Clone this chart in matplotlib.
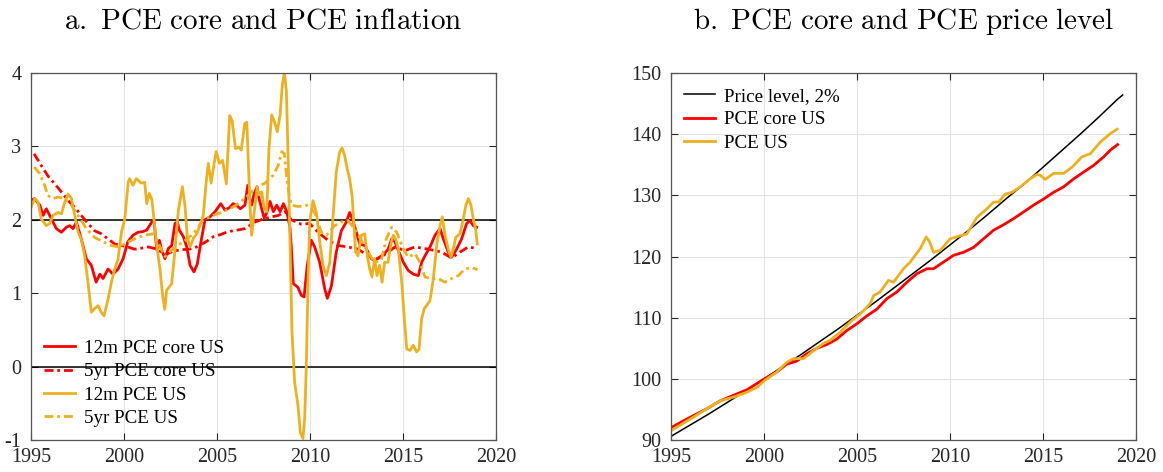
import matplotlib
matplotlib.use("Agg")
import matplotlib.pyplot as plt

plt.rcParams['font.family'] = ['Liberation Serif', 'DejaVu Serif']
plt.rcParams['mathtext.fontset'] = 'cm'
plt.rcParams['axes.unicode_minus'] = False

# ---- panel a: inflation rates (year, percent) ----
core12 = [(1995.0, 2.26), (1995.18, 2.29), (1995.47, 2.20), (1995.65, 2.06), (1995.82, 2.15),
          (1996.1, 2.01), (1996.36, 1.88), (1996.63, 1.83), (1996.9, 1.90), (1997.08, 1.92),
          (1997.26, 1.88), (1997.44, 1.97), (1997.7, 1.74), (1997.97, 1.47), (1998.24, 1.38),
          (1998.5, 1.15), (1998.7, 1.26), (1998.87, 1.20), (1999.14, 1.33), (1999.4, 1.26),
          (1999.68, 1.33), (1999.95, 1.47), (2000.2, 1.70), (2000.48, 1.79), (2000.75, 1.83),
          (2001.0, 1.84), (2001.22, 1.86), (2001.49, 1.97), (2001.61, 2.00), (2001.76, 1.59),
          (2001.9, 1.72), (2002.02, 1.59), (2002.2, 1.47), (2002.38, 1.61), (2002.56, 1.65),
          (2002.74, 1.95), (2002.87, 1.97), (2002.97, 1.86), (2003.19, 1.77), (2003.37, 1.63),
          (2003.55, 1.38), (2003.76, 1.29), (2003.94, 1.40), (2004.12, 1.68), (2004.35, 2.00),
          (2004.62, 2.04), (2004.89, 2.11), (2005.2, 2.22), (2005.43, 2.13), (2005.68, 2.17),
          (2005.86, 2.22), (2006.04, 2.20), (2006.25, 2.15), (2006.5, 2.20), (2006.65, 2.47),
          (2006.76, 2.29), (2006.86, 2.20), (2007.0, 2.36), (2007.15, 2.45), (2007.26, 2.29),
          (2007.4, 2.15), (2007.54, 2.02), (2007.69, 2.11), (2007.85, 2.25), (2008.03, 2.11),
          (2008.21, 2.20), (2008.39, 2.11), (2008.57, 2.22), (2008.75, 2.11), (2008.92, 1.90),
          (2009.0, 1.60), (2009.1, 1.13), (2009.35, 1.08), (2009.53, 0.97), (2009.68, 0.95),
          (2009.85, 1.38), (2010.07, 1.72), (2010.25, 1.63), (2010.52, 1.42), (2010.79, 1.06),
          (2010.93, 0.93), (2011.15, 1.10), (2011.41, 1.56), (2011.68, 1.85), (2011.95, 1.97),
          (2012.13, 2.10), (2012.31, 1.99), (2012.49, 1.83), (2012.67, 1.67), (2012.94, 1.65),
          (2013.12, 1.56), (2013.3, 1.47), (2013.47, 1.45), (2013.74, 1.49), (2014.0, 1.54),
          (2014.2, 1.60), (2014.39, 1.74), (2014.57, 1.70), (2014.75, 1.58), (2015.02, 1.42),
          (2015.28, 1.31), (2015.55, 1.26), (2015.82, 1.24), (2016.0, 1.42), (2016.18, 1.51),
          (2016.45, 1.63), (2016.72, 1.79), (2016.99, 1.88), (2017.17, 1.74), (2017.43, 1.56),
          (2017.61, 1.49), (2017.88, 1.60), (2018.15, 1.74), (2018.42, 1.95), (2018.6, 1.99),
          (2018.78, 1.92), (2018.96, 1.90)]

core5 = [(1995.16, 2.90), (1995.55, 2.74), (1995.9, 2.60), (1996.27, 2.49), (1996.63, 2.38),
         (1997.0, 2.26), (1997.35, 2.17), (1997.7, 2.06), (1998.06, 1.95), (1998.42, 1.85),
         (1998.78, 1.81), (1999.14, 1.74), (1999.5, 1.67), (1999.86, 1.65), (2000.2, 1.63),
         (2000.57, 1.60), (2000.86, 1.61), (2001.3, 1.63), (2001.8, 1.60), (2002.2, 1.52),
         (2002.6, 1.57), (2003.0, 1.59), (2003.5, 1.60), (2003.9, 1.63), (2004.4, 1.70),
         (2004.8, 1.77), (2005.2, 1.80), (2005.6, 1.84), (2006.1, 1.86), (2006.5, 1.88),
         (2007.04, 1.97), (2007.58, 2.02), (2008.3, 2.06), (2008.66, 2.11), (2009.0, 2.00),
         (2009.53, 1.94), (2009.98, 1.95), (2010.43, 1.83), (2010.97, 1.72), (2011.5, 1.65),
         (2012.04, 1.63), (2012.58, 1.60), (2013.12, 1.51), (2013.47, 1.45), (2013.92, 1.51),
         (2014.3, 1.58), (2014.57, 1.63), (2015.1, 1.58), (2015.64, 1.63), (2016.36, 1.60),
         (2017.08, 1.56), (2017.61, 1.48), (2018.06, 1.56), (2018.51, 1.63), (2018.96, 1.61)]

pce12 = [(1995.0, 2.17), (1995.2, 2.29), (1995.38, 2.24), (1995.55, 2.01), (1995.82, 1.92),
         (1996.0, 1.95), (1996.18, 2.06), (1996.45, 2.10), (1996.63, 2.08), (1996.81, 2.24),
         (1996.99, 2.35), (1997.17, 2.29), (1997.35, 2.06), (1997.53, 1.83), (1997.7, 1.74),
         (1997.88, 1.51), (1998.06, 1.15), (1998.24, 0.74), (1998.42, 0.79), (1998.6, 0.83),
         (1998.78, 0.74), (1998.92, 0.69), (1999.14, 0.92), (1999.32, 1.15), (1999.5, 1.33),
         (1999.68, 1.47), (1999.86, 1.83), (2000.04, 2.01), (2000.22, 2.51), (2000.3, 2.56),
         (2000.48, 2.47), (2000.66, 2.56), (2000.93, 2.50), (2001.11, 2.51), (2001.22, 2.22),
         (2001.36, 2.36), (2001.5, 2.27), (2001.67, 1.86), (2001.79, 1.59), (2001.94, 1.31),
         (2002.08, 0.95), (2002.19, 0.78), (2002.29, 1.04), (2002.44, 1.09), (2002.56, 1.13),
         (2002.74, 1.59), (2002.92, 2.13), (2003.14, 2.45), (2003.28, 2.18), (2003.4, 1.77),
         (2003.55, 1.63), (2003.73, 1.75), (2003.91, 1.81), (2004.09, 1.93), (2004.26, 2.06),
         (2004.41, 2.50), (2004.53, 2.77), (2004.68, 2.50), (2004.8, 2.70), (2004.95, 2.93),
         (2005.13, 2.77), (2005.3, 2.81), (2005.5, 2.49), (2005.68, 3.42), (2005.81, 3.35),
         (2005.99, 2.97), (2006.16, 2.99), (2006.3, 2.95), (2006.49, 3.31), (2006.6, 3.33),
         (2006.68, 2.79), (2006.77, 2.20), (2006.86, 1.79), (2007.0, 2.11), (2007.15, 2.43),
         (2007.26, 2.34), (2007.4, 2.38), (2007.54, 2.16), (2007.67, 2.11), (2007.79, 2.97),
         (2007.94, 3.43), (2008.08, 3.34), (2008.24, 3.20), (2008.39, 3.43), (2008.51, 3.84),
         (2008.62, 4.00), (2008.73, 3.75), (2008.83, 2.75), (2008.92, 1.75), (2009.03, 0.47),
         (2009.17, -0.21), (2009.35, -0.53), (2009.48, -0.90), (2009.62, -0.98), (2009.71, -0.71),
         (2009.8, 0.01), (2009.89, 1.15), (2009.98, 1.97), (2010.16, 2.26), (2010.34, 2.10),
         (2010.52, 1.70), (2010.7, 1.38), (2010.88, 1.24), (2011.06, 1.42), (2011.24, 2.06),
         (2011.41, 2.65), (2011.59, 2.92), (2011.72, 2.98), (2011.86, 2.88), (2011.99, 2.70),
         (2012.13, 2.56), (2012.26, 2.33), (2012.36, 1.92), (2012.45, 1.56), (2012.58, 1.51),
         (2012.76, 1.79), (2012.94, 1.81), (2013.08, 1.51), (2013.21, 1.33), (2013.33, 1.22),
         (2013.47, 1.47), (2013.6, 1.24), (2013.74, 1.38), (2013.87, 1.15), (2014.01, 1.42),
         (2014.19, 1.42), (2014.37, 1.70), (2014.48, 1.79), (2014.6, 1.74), (2014.75, 1.60),
         (2014.93, 1.15), (2015.07, 0.65), (2015.2, 0.24), (2015.37, 0.22), (2015.55, 0.29),
         (2015.73, 0.20), (2015.86, 0.24), (2016.0, 0.65), (2016.14, 0.79), (2016.32, 0.85),
         (2016.45, 0.90), (2016.63, 1.20), (2016.81, 1.65), (2016.99, 1.92), (2017.11, 2.04),
         (2017.26, 1.79), (2017.43, 1.60), (2017.58, 1.49), (2017.7, 1.60), (2017.83, 1.76),
         (2018.06, 1.81), (2018.24, 2.01), (2018.38, 2.20), (2018.51, 2.29), (2018.65, 2.20),
         (2018.78, 2.01), (2018.9, 1.88), (2018.99, 1.67)]

pce5 = [(1995.16, 2.72), (1995.47, 2.63), (1995.73, 2.47), (1995.9, 2.33), (1996.18, 2.29),
        (1996.45, 2.31), (1996.81, 2.29), (1997.17, 2.20), (1997.53, 2.06), (1997.97, 1.88),
        (1998.42, 1.76), (1998.87, 1.70), (1999.32, 1.65), (1999.68, 1.63), (2000.04, 1.67),
        (2000.39, 1.72), (2000.75, 1.76), (2001.11, 1.79), (2001.58, 1.81), (2001.94, 1.63),
        (2002.2, 1.50), (2002.65, 1.61), (2003.19, 1.70), (2003.73, 1.81), (2004.26, 2.00),
        (2004.8, 2.06), (2005.34, 2.11), (2005.9, 2.18), (2006.5, 2.29), (2007.04, 2.43),
        (2007.58, 2.50), (2008.03, 2.61), (2008.3, 2.75), (2008.48, 2.93), (2008.62, 2.90),
        (2008.75, 2.56), (2008.87, 2.34), (2009.0, 2.20), (2009.37, 2.18), (2009.82, 2.20),
        (2010.25, 2.10), (2010.61, 1.83), (2010.88, 1.79), (2011.32, 1.92), (2011.68, 1.97),
        (2012.04, 1.99), (2012.4, 1.88), (2012.76, 1.72), (2013.12, 1.56), (2013.47, 1.42),
        (2013.83, 1.45), (2014.1, 1.74), (2014.39, 1.90), (2014.66, 1.83), (2015.02, 1.60),
        (2015.28, 1.49), (2015.64, 1.54), (2015.91, 1.42), (2016.18, 1.22), (2016.54, 1.20),
        (2016.9, 1.20), (2017.26, 1.15), (2017.61, 1.20), (2017.97, 1.24), (2018.33, 1.33),
        (2018.69, 1.35), (2019.01, 1.32)]

# ---- panel b: price levels (2000 = 100) ----
target = [(1995, 90.6), (1996, 92.4), (1997, 94.2), (1998, 96.1), (1999, 98.0), (2000, 100.0),
          (2001, 102.0), (2002, 104.0), (2003, 106.1), (2004, 108.2), (2005, 110.4),
          (2006, 112.6), (2007, 114.9), (2008, 117.2), (2009, 119.5), (2010, 121.9),
          (2011, 124.3), (2012, 126.8), (2013, 129.4), (2014, 131.9), (2015, 134.6),
          (2016, 137.3), (2017, 140.0), (2018, 142.8), (2019, 145.7), (2019.28, 146.4)]

core_lvl = [(1995.04, 92.1), (1996.02, 93.7), (1996.92, 95.1), (1997.64, 96.4), (1998.35, 97.3),
            (1999.07, 98.2), (2000.02, 100.0), (2000.68, 101.1), (2001.22, 102.4), (2001.76, 102.9),
            (2002.3, 104.1), (2002.84, 105.0), (2003.37, 105.6), (2003.91, 106.5), (2004.45, 107.9),
            (2004.99, 109.0), (2005.53, 110.3), (2006.07, 111.4), (2006.6, 113.1), (2007.14, 114.2),
            (2007.68, 115.8), (2008.22, 117.2), (2008.76, 118.0), (2009.11, 118.0), (2009.65, 119.1),
            (2010.19, 120.2), (2010.73, 120.7), (2011.27, 121.5), (2011.8, 122.9), (2012.34, 124.3),
            (2012.88, 125.2), (2013.42, 126.2), (2013.96, 127.3), (2014.49, 128.4), (2015.03, 129.4),
            (2015.57, 130.5), (2016.11, 131.4), (2016.65, 132.7), (2017.18, 133.8), (2017.72, 134.9),
            (2018.26, 136.3), (2018.62, 137.4), (2019.01, 138.3)]

pce_lvl = [(1995.04, 91.6), (1996.02, 93.4), (1996.92, 95.1), (1997.64, 96.4), (1998.35, 97.0),
           (1999.07, 97.8), (1999.61, 98.6), (2000.02, 99.7), (2000.68, 101.1), (2001.22, 102.7),
           (2001.58, 103.3), (2002.12, 103.3), (2002.66, 104.6), (2003.2, 105.8), (2003.55, 106.3),
           (2004.09, 107.6), (2004.63, 109.3), (2005.17, 110.6), (2005.71, 112.3), (2005.89, 113.6),
           (2006.24, 114.2), (2006.69, 116.1), (2006.96, 115.8), (2007.5, 118.0), (2007.86, 119.1),
           (2008.4, 121.3), (2008.72, 123.2), (2008.9, 122.4), (2009.11, 120.7), (2009.47, 121.0),
           (2010.01, 122.9), (2010.55, 123.4), (2010.9, 123.7), (2011.45, 126.4), (2011.98, 127.8),
           (2012.34, 128.9), (2012.61, 128.9), (2012.97, 130.2), (2013.33, 130.5), (2013.78, 131.4),
           (2014.31, 132.7), (2014.67, 133.4), (2014.85, 133.3), (2015.12, 132.6), (2015.57, 133.6),
           (2016.11, 133.6), (2016.56, 134.6), (2017.09, 136.3), (2017.54, 136.8), (2018.08, 138.7),
           (2018.62, 140.1), (2018.98, 140.8)]

RED = '#FF0000'
ORANGE = '#EDB120'
DASHDOT = (0, (3.2, 1.4, 1.0, 1.4))


def xy(pairs):
    return [p[0] for p in pairs], [p[1] for p in pairs]


def style_axes(ax):
    ax.set_xlim(1995, 2020)
    ax.set_xticks([1995, 2000, 2005, 2010, 2015, 2020])
    ax.grid(True, color='#e3e3e3', lw=0.8)
    ax.set_axisbelow(True)
    ax.tick_params(direction='in', top=True, right=True, length=5, width=0.8,
                   color='#262626', labelcolor='#262626', labelsize=14.5)
    ax.tick_params(axis='y', pad=7)
    ax.tick_params(axis='x', pad=6)
    for s in ax.spines.values():
        s.set_color('#555555')
        s.set_linewidth(0.9)


fig = plt.figure(figsize=(11.63, 4.72), dpi=100)
ax1 = fig.add_axes([0.0267, 0.0678, 0.3998, 0.7775])
ax2 = fig.add_axes([0.577, 0.0678, 0.3998, 0.7775])

leg_kw = dict(frameon=False, fontsize=13.7, handlelength=1.6, handletextpad=0.5,
              labelspacing=0.32, borderpad=0, borderaxespad=0)

# panel a
ax1.axhline(2, color='black', lw=1.1, zorder=1.5)
ax1.axhline(0, color='black', lw=1.1, zorder=1.5)
ax1.plot(*xy(core12), color=RED, lw=2, label='12m PCE core US')
ax1.plot(*xy(core5), color=RED, lw=2, ls=DASHDOT, label='5yr PCE core US')
ax1.plot(*xy(pce12), color=ORANGE, lw=2, label='12m PCE US')
ax1.plot(*xy(pce5), color=ORANGE, lw=2, ls=DASHDOT, label='5yr PCE US')
ax1.set_ylim(-1, 4)
ax1.set_yticks([-1, 0, 1, 2, 3, 4])
style_axes(ax1)
ax1.legend(loc='lower left', bbox_to_anchor=(0.028, 0.035), **leg_kw)
ax1.set_title(r'$\mathrm{a.\ PCE\ core\ and\ PCE\ inflation}$', fontsize=21, pad=32)

# panel b
ax2.plot(*xy(target), color='black', lw=1.1, label='Price level, 2%')
ax2.plot(*xy(core_lvl), color=RED, lw=2, label='PCE core US')
ax2.plot(*xy(pce_lvl), color=ORANGE, lw=2, label='PCE US')
ax2.set_ylim(90, 150)
ax2.set_yticks([90, 100, 110, 120, 130, 140, 150])
style_axes(ax2)
ax2.legend(loc='upper left', bbox_to_anchor=(0.028, 0.96), **leg_kw)
ax2.set_title(r'$\mathrm{b.\ PCE\ core\ and\ PCE\ price\ level}$', fontsize=21, pad=32)

fig.savefig('out.png', dpi=100)
